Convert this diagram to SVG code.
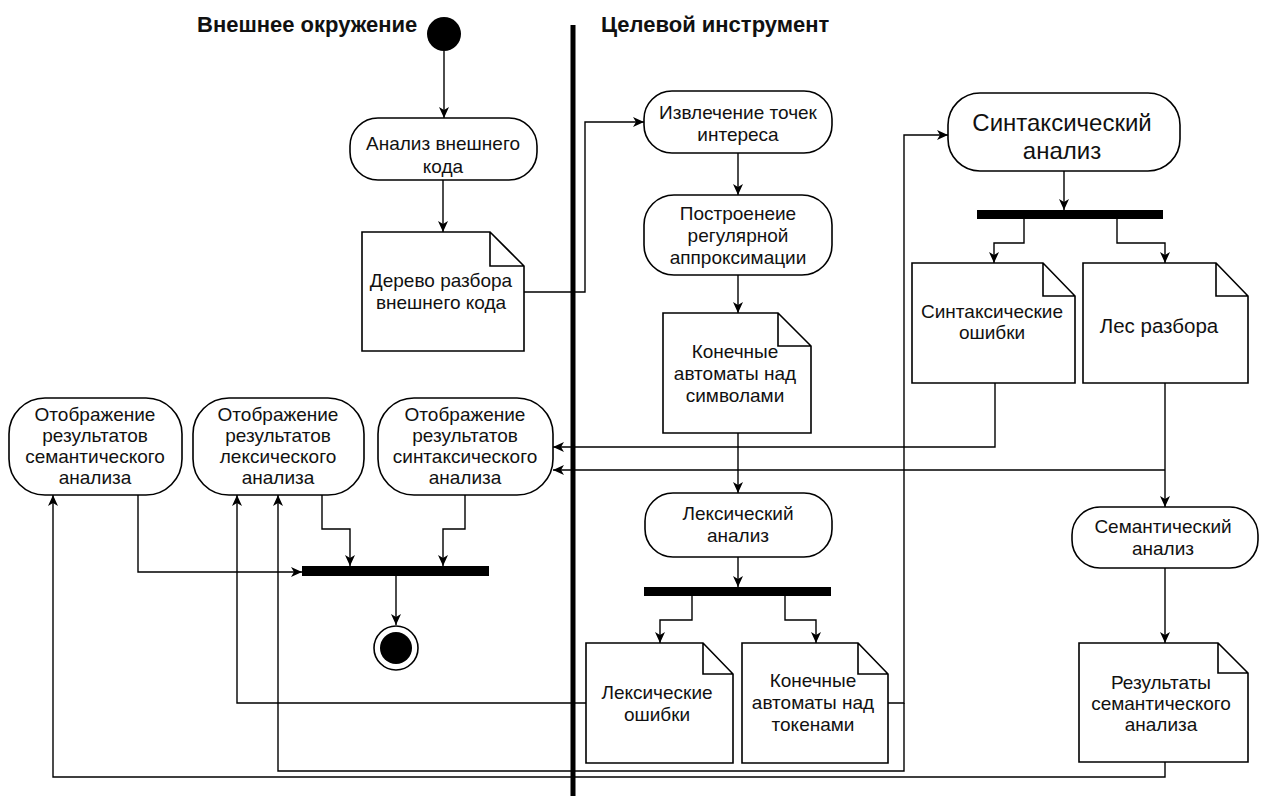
<svg xmlns="http://www.w3.org/2000/svg" width="1268" height="796" viewBox="0 0 1268 796">
<defs>
<marker id="arr" markerUnits="userSpaceOnUse" markerWidth="12" markerHeight="10" refX="11" refY="5" orient="auto">
<path d="M0,0 L11,5 L0,10 L3,5 z" fill="#000"/>
</marker>
<style>
text{font-family:"Liberation Sans",Arial,sans-serif;fill:#111;text-anchor:middle}
.l{font-size:19px}
.big{font-size:24px}
.mid{font-size:20.5px}
.t{font-size:22px;font-weight:bold;text-anchor:start}
.n{fill:#fff;stroke:#000;stroke-width:1.6}
.c{fill:none;stroke:#000;stroke-width:1.4;marker-end:url(#arr)}
.bar{fill:#000}
</style>
</defs>
<rect width="1268" height="796" fill="#fff"/>

<g id="lanes">
<line x1="573" y1="25" x2="573" y2="796" stroke="#000" stroke-width="5"/>
<text class="t" x="197" y="32">Внешнее окружение</text>
<text class="t" x="601" y="32">Целевой инструмент</text>
</g>

<g id="connectors">
<path class="c" d="M444,51 V118"/>
<path class="c" d="M443,180 V232"/>
<path class="c" d="M524,292 H585 V122 H644"/>
<path class="c" d="M738,153 V195"/>
<path class="c" d="M738,275 V313"/>
<path class="c" d="M738,433 V493"/>
<path class="c" d="M738,557 V587"/>
<path class="c" d="M692,596 V620 H660 V643"/>
<path class="c" d="M785,596 V620 H816 V643"/>
<path class="c" d="M586,703 H237 V495"/>
<path class="c" d="M888,703 H904 V135 H948"/>
<path class="c" d="M904,703 V771 H278 V495"/>
<path class="c" d="M1064,171 V210"/>
<path class="c" d="M1024,218 V243 H994 V263"/>
<path class="c" d="M1117,218 V243 H1165 V263"/>
<path class="c" d="M995,383 V447 H553"/>
<path class="c" d="M1165,383 V507"/>
<path class="c" d="M1165,470 H553"/>
<path class="c" d="M1165,568 V643"/>
<path class="c" d="M1165,762 V777 H53 V495"/>
<path class="c" d="M138,495 V572 H302"/>
<path class="c" d="M322,495 V529 H350 V566"/>
<path class="c" d="M465,495 V529 H443 V566"/>
<path class="c" d="M396,576 V625"/>
</g>

<g id="start"><circle cx="444" cy="34" r="17" fill="#000"/></g>

<g id="n_analiz_vnesh">
<rect class="n" x="350" y="118" width="187" height="62" rx="28"/>
<text class="l" x="443" y="150">Анализ внешнего</text>
<text class="l" x="443" y="173">кода</text>
</g>

<g id="d_derevo">
<path class="n" d="M362,232 H490 L524,266 V351 H362 Z M490,232 V266 H524"/>
<text class="l" x="441" y="287">Дерево разбора</text>
<text class="l" x="441" y="309">внешнего кода</text>
</g>

<g id="n_izvlech">
<rect class="n" x="644" y="91" width="188" height="62" rx="28"/>
<text class="l" x="738" y="119">Извлечение точек</text>
<text class="l" x="738" y="141">интереса</text>
</g>

<g id="n_postr">
<rect class="n" x="644" y="195" width="188" height="80" rx="30"/>
<text class="l" x="738" y="220">Построенеие</text>
<text class="l" x="738" y="242">регулярной</text>
<text class="l" x="738" y="264">аппроксимации</text>
</g>

<g id="d_ka_simv">
<path class="n" d="M663,313 H778 L811,346 V433 H663 Z M778,313 V346 H811"/>
<text class="l" x="735" y="358">Конечные</text>
<text class="l" x="735" y="380">автоматы над</text>
<text class="l" x="735" y="402">символами</text>
</g>

<g id="n_leks">
<rect class="n" x="645" y="493" width="187" height="64" rx="28"/>
<text class="l" x="738" y="520">Лексический</text>
<text class="l" x="738" y="542">анализ</text>
</g>

<g id="bar_leks"><rect class="bar" x="644" y="587" width="187" height="9"/></g>

<g id="d_leks_osh">
<path class="n" d="M586,643 H703 L733,674 V763 H586 Z M703,643 V674 H733"/>
<text class="l" x="657" y="699">Лексические</text>
<text class="l" x="657" y="721">ошибки</text>
</g>

<g id="d_ka_tok">
<path class="n" d="M742,643 H858 L888,674 V763 H742 Z M858,643 V674 H888"/>
<text class="l" x="813" y="687">Конечные</text>
<text class="l" x="813" y="709">автоматы над</text>
<text class="l" x="813" y="731">токенами</text>
</g>

<g id="n_sint">
<rect class="n" x="948" y="93" width="232" height="78" rx="32"/>
<text class="big" x="1062" y="131">Синтаксический</text>
<text class="big" x="1062" y="159">анализ</text>
</g>

<g id="bar_sint"><rect class="bar" x="977" y="210" width="186" height="9"/></g>

<g id="d_sint_osh">
<path class="n" d="M912,263 H1043 L1075,296 V383 H912 Z M1043,263 V296 H1075"/>
<text class="l" x="992" y="318">Синтаксические</text>
<text class="l" x="992" y="339">ошибки</text>
</g>

<g id="d_les">
<path class="n" d="M1083,263 H1216 L1248,296 V383 H1083 Z M1216,263 V296 H1248"/>
<text class="mid" x="1159" y="333">Лес разбора</text>
</g>

<g id="n_sem">
<rect class="n" x="1072" y="507" width="186" height="61" rx="28"/>
<text class="l" x="1163" y="533">Семантический</text>
<text class="l" x="1163" y="555">анализ</text>
</g>

<g id="d_sem_res">
<path class="n" d="M1079,643 H1218 L1248,673 V762 H1079 Z M1218,643 V673 H1248"/>
<text class="l" x="1161" y="689">Результаты</text>
<text class="l" x="1161" y="710">семантического</text>
<text class="l" x="1161" y="731">анализа</text>
</g>

<g id="n_otobr_sem">
<rect class="n" x="9" y="398" width="173" height="97" rx="36"/>
<text class="l" x="95" y="421">Отображение</text>
<text class="l" x="95" y="442">результатов</text>
<text class="l" x="95" y="463">семантического</text>
<text class="l" x="95" y="484">анализа</text>
</g>

<g id="n_otobr_leks">
<rect class="n" x="193" y="398" width="171" height="97" rx="36"/>
<text class="l" x="278" y="421">Отображение</text>
<text class="l" x="278" y="442">результатов</text>
<text class="l" x="278" y="463">лексического</text>
<text class="l" x="278" y="484">анализа</text>
</g>

<g id="n_otobr_sint">
<rect class="n" x="378" y="398" width="175" height="97" rx="36"/>
<text class="l" x="465" y="421">Отображение</text>
<text class="l" x="465" y="442">результатов</text>
<text class="l" x="465" y="463">синтаксического</text>
<text class="l" x="465" y="484">анализа</text>
</g>

<g id="bar_join"><rect class="bar" x="302" y="566" width="187" height="10"/></g>

<g id="end">
<circle cx="396" cy="648" r="22" fill="#fff" stroke="#000" stroke-width="1.6"/>
<circle cx="396" cy="648" r="16" fill="#000"/>
</g>
</svg>
